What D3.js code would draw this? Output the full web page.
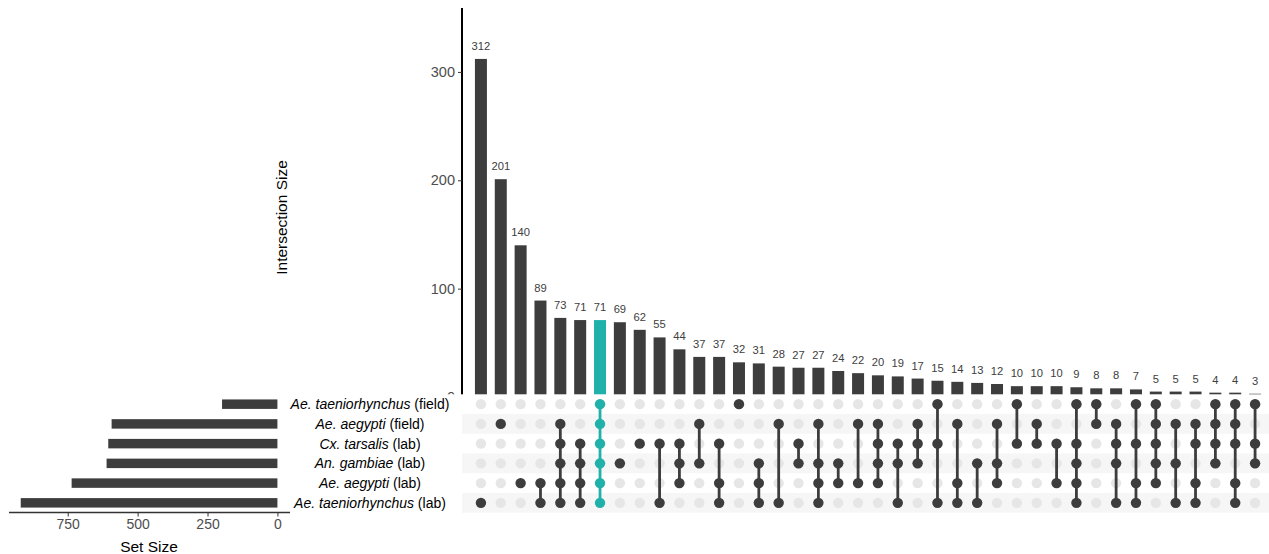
<!DOCTYPE html>
<html>
<head>
<meta charset="utf-8">
<script src="https://cdn.jsdelivr.net/npm/d3@7"></script>
<style>
  html, body { margin: 0; padding: 0; background: #fff; }
  svg { display: block; font-family: "Liberation Sans", Arial, sans-serif; }
</style>
</head>
<body>
<svg id="chart" width="1269" height="554"></svg>
<script>
// Sets, top row to bottom row of the matrix
const setSpecies = ["Ae. taeniorhynchus", "Ae. aegypti", "Cx. tarsalis", "An. gambiae", "Ae. aegypti", "Ae. taeniorhynchus"];
const setOrigin  = ["(field)", "(field)", "(lab)", "(lab)", "(lab)", "(lab)"];
const setSizes   = [198, 593, 605, 611, 736, 918];

// Intersections, ordered by size; members are set row indices
const intersectionSizes = [312, 201, 140, 89, 73, 71, 71, 69, 62, 55, 44, 37, 37, 32, 31, 28, 27, 27, 24, 22,
                           20, 19, 17, 15, 14, 13, 12, 10, 10, 10, 9, 8, 8, 7, 5, 5, 5, 4, 4, 3];
const intersectionMembers = [
  [5], [1], [4], [4, 5], [1, 2, 3, 4, 5], [2, 3, 4, 5], [0, 1, 2, 3, 4, 5], [3], [2], [2, 5],
  [2, 3, 4], [1, 3], [2, 4, 5], [0], [3, 4, 5], [1, 5], [2, 3], [1, 3, 4, 5], [3, 4], [1, 4],
  [1, 2, 3, 4], [2, 3, 5], [1, 2, 3], [0, 2, 5], [1, 4, 5], [3, 5], [1, 3, 4], [0, 2], [1, 2], [2, 4],
  [0, 2, 3, 4, 5], [0, 1], [1, 2, 3, 5], [0, 2, 4, 5], [0, 1, 2, 3, 4], [1, 3, 5], [1, 2, 4, 5], [0, 1, 2, 3], [0, 1, 2, 4, 5], [0, 2, 3]
];
const highlighted = 6;   // intersection shared by all six sets

const sizeTicks = [0, 100, 200, 300];
const setTicks = [750, 500, 250, 0];

const dark = "#3d3d3d", teal = "#20b2aa", faint = "#e6e6e6", stripe = "#f6f6f6", tickGrey = "#4d4d4d";

const svg = d3.select("#chart");

// Scales
const x = d3.scaleBand().domain(d3.range(intersectionSizes.length)).range([471, 1265]).padding(0);
const cx = i => x(i) + x.bandwidth() / 2;
const y = d3.scaleLinear().domain([0, 359]).range([397, 8]);
const row = d3.scaleBand().domain(d3.range(setSizes.length)).range([394.3, 512.7]);
const ry = i => row(i) + row.bandwidth() / 2;
const sx = d3.scaleLinear().domain([960, -45]).range([9, 290]);

// ---- Intersection size bars ----
const barPanel = svg.append("g");
const barW = 12;
barPanel.selectAll("rect.bar").data(intersectionSizes).join("rect")
  .attr("x", (d, i) => cx(i) - barW / 2)
  .attr("y", d => y(d))
  .attr("width", barW)
  .attr("height", d => y(0) - y(d))
  .attr("fill", (d, i) => i === highlighted ? teal : dark);

barPanel.selectAll("text.val").data(intersectionSizes).join("text")
  .attr("x", (d, i) => cx(i))
  .attr("y", d => y(d) - 9)
  .attr("text-anchor", "middle")
  .style("font-size", "11.2px")
  .attr("fill", "#404040")
  .text(d => d);

const yAxis = barPanel.append("g").attr("transform", "translate(462,0)")
  .call(d3.axisLeft(y).tickValues(sizeTicks).tickSize(4).tickPadding(3));
yAxis.attr("font-size", null).attr("font-family", null);
yAxis.select(".domain").attr("stroke", "#000").attr("stroke-width", 2).attr("d", `M0,${y(359)}V${y(0)}`);
yAxis.selectAll(".tick line").attr("stroke", "#333").attr("stroke-width", 1);
yAxis.selectAll(".tick text").style("font-size", "14.5px").attr("fill", tickGrey);

barPanel.append("text")
  .attr("transform", `translate(287,${(y(359) + y(0)) / 2 + 15}) rotate(-90)`)
  .attr("text-anchor", "middle")
  .style("font-size", "15.5px")
  .attr("fill", "#000")
  .text("Intersection Size");

// ---- Matrix panel (drawn over the bar panel's lower edge) ----
const mat = svg.append("g");
mat.append("rect").attr("x", 290).attr("y", row.range()[0]).attr("width", 1269 - 290).attr("height", 554 - row.range()[0]).attr("fill", "#fff");
mat.selectAll("rect.stripe").data(d3.range(setSizes.length).filter(i => i % 2 === 1)).join("rect")
  .attr("x", 462).attr("y", i => row(i))
  .attr("width", 1269 - 462).attr("height", row.bandwidth())
  .attr("fill", stripe);

const cols = mat.selectAll("g.col").data(intersectionMembers).join("g")
  .attr("transform", (d, i) => `translate(${cx(i)},0)`);
cols.selectAll("circle.bg").data(d3.range(setSizes.length)).join("circle")
  .attr("cy", r => ry(r)).attr("r", 5.2).attr("fill", faint);
cols.append("line")
  .attr("y1", m => ry(d3.min(m))).attr("y2", m => ry(d3.max(m)))
  .attr("stroke", (m, i) => i === highlighted ? teal : dark)
  .attr("stroke-width", 2.8);
cols.each(function (m, i) {
  d3.select(this).selectAll("circle.on").data(m).join("circle")
    .attr("cy", r => ry(r)).attr("r", 5.2)
    .attr("fill", i === highlighted ? teal : dark);
});

// Set labels
const lab = mat.selectAll("text.set").data(setSpecies).join("text")
  .attr("x", 370).attr("y", (d, i) => ry(i) + 5)
  .attr("text-anchor", "middle")
  .style("font-size", "14px")
  .attr("fill", "#000");
lab.append("tspan").attr("font-style", "italic").text(d => d);
lab.append("tspan").text((d, i) => " " + setOrigin[i]);

// ---- Set size bars ----
const setPanel = svg.append("g");
const setBarH = row.bandwidth() * 0.48;
setPanel.selectAll("rect.set").data(setSizes).join("rect")
  .attr("x", d => sx(d))
  .attr("y", (d, i) => ry(i) - setBarH / 2)
  .attr("width", d => sx(0) - sx(d))
  .attr("height", setBarH)
  .attr("fill", dark);

const xAxis = setPanel.append("g").attr("transform", "translate(0,512.5)")
  .call(d3.axisBottom(sx).tickValues(setTicks).tickSize(4).tickPadding(3));
xAxis.attr("font-size", null).attr("font-family", null);
xAxis.select(".domain").attr("stroke", "#333").attr("stroke-width", 1.3).attr("d", `M${sx.range()[0]},0H${sx.range()[1]}`);
xAxis.selectAll(".tick line").attr("stroke", "#333");
xAxis.selectAll(".tick text").style("font-size", "14px").attr("fill", tickGrey);

setPanel.append("text")
  .attr("x", 149).attr("y", 552)
  .attr("text-anchor", "middle")
  .style("font-size", "15.5px")
  .attr("fill", "#000")
  .text("Set Size");
</script>
</body>
</html>
